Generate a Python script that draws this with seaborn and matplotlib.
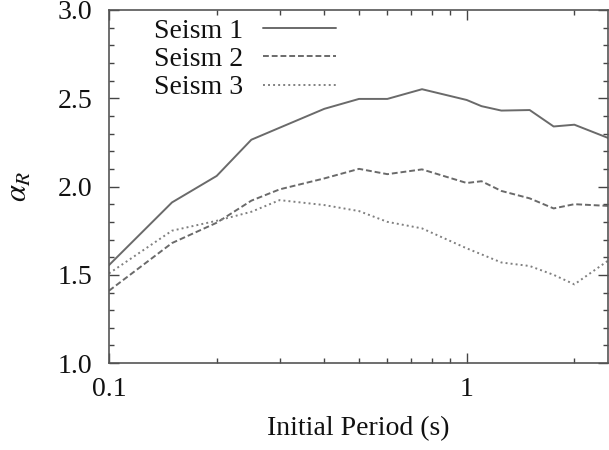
import numpy as np
import pandas as pd
import matplotlib
matplotlib.use("Agg")
import matplotlib.pyplot as plt
import matplotlib.ticker as mticker
import seaborn as sns

periods = [0.1, 0.15, 0.2, 0.25, 0.3, 0.4, 0.5, 0.6, 0.75, 1.0, 1.1, 1.25, 1.5, 1.75, 2.0, 2.5]
seism1 = [1.555, 1.91, 2.06, 2.265, 2.333, 2.44, 2.496, 2.496, 2.551, 2.49, 2.455, 2.43, 2.433, 2.34, 2.35, 2.273]
seism2 = [1.41, 1.68, 1.795, 1.92, 1.984, 2.046, 2.10, 2.07, 2.097, 2.02, 2.03, 1.975, 1.933, 1.876, 1.90, 1.89]
seism3 = [1.508, 1.75, 1.806, 1.857, 1.923, 1.895, 1.861, 1.80, 1.763, 1.65, 1.616, 1.57, 1.55, 1.50, 1.446, 1.584]
labels = ["Seism 1", "Seism 2", "Seism 3"]

df = pd.DataFrame({
    "period": periods * 3,
    "alpha": seism1 + seism2 + seism3,
    "series": [labels[0]] * len(periods) + [labels[1]] * len(periods) + [labels[2]] * len(periods),
})

sns.set_style("ticks")
plt.rcParams["font.family"] = ["Liberation Serif", "DejaVu Serif"]
plt.rcParams["mathtext.fontset"] = "stix"

fig = plt.figure(figsize=(6.09, 4.5), dpi=100)
ax = fig.add_axes([0.179, 0.193, 0.819, 0.785])

sns.lineplot(data=df, x="period", y="alpha", hue="series", style="series",
             palette=["#6a6a6a", "#6a6a6a", "#808080"],
             dashes={labels[0]: "", labels[1]: (3, 1.5), labels[2]: (1, 1.6)},
             linewidth=1.4, ax=ax, legend=True)

ax.set_xscale("log")
ax.set_xlim(0.1, 2.48)
ax.set_ylim(1.0, 3.0)
ax.xaxis.set_major_locator(mticker.FixedLocator([0.1, 1.0]))
ax.xaxis.set_major_formatter(mticker.FixedFormatter(["0.1", "1"]))
ax.xaxis.set_minor_locator(mticker.LogLocator(base=10, subs=np.arange(2, 10)))
ax.xaxis.set_minor_formatter(mticker.NullFormatter())
ax.yaxis.set_major_locator(mticker.MultipleLocator(0.5))
ax.yaxis.set_minor_locator(mticker.MultipleLocator(0.1))
ax.yaxis.set_major_formatter(mticker.FormatStrFormatter("%.1f"))

ax.tick_params(which="both", direction="in", top=True, right=True, color="#444444",
               labelsize=20, labelcolor="#111111")
ax.tick_params(which="major", length=7, width=1.0)
ax.tick_params(axis="x", which="major", pad=10)
ax.tick_params(axis="y", which="major", pad=12)
ax.tick_params(which="minor", length=3.5, width=1.0)
for s in ax.spines.values():
    s.set_color("#555555")
    s.set_linewidth(1.2)

ax.set_xlabel("Initial Period (s)", fontsize=20, color="#111111", labelpad=10)
ax.set_ylabel(r"$\alpha_R$", fontsize=22, color="#111111", labelpad=17)

handles, lbls = ax.get_legend_handles_labels()
leg = ax.legend(handles, lbls, loc="upper left", bbox_to_anchor=(0.23, 0.99),
                bbox_transform=fig.transFigure, frameon=False, markerfirst=False,
                fontsize=20, handlelength=2.65, labelspacing=0.1, borderpad=0,
                handletextpad=0.7)
for t in leg.get_texts():
    t.set_color("#111111")

fig.savefig("out.png", dpi=100)
